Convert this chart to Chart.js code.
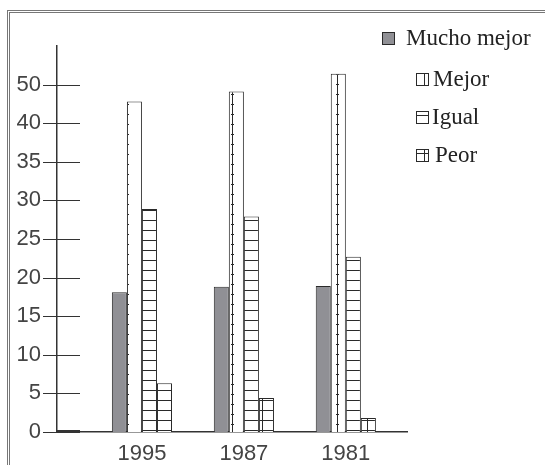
<!DOCTYPE html>
<html>
<head>
<meta charset="utf-8">
<script src="https://cdn.jsdelivr.net/npm/chart.js@4"></script>
<style>
body{margin:0;background:#fff;}
#wrap{position:relative;width:545px;height:465px;overflow:hidden;background:#fff;}
#frame{position:absolute;left:7px;top:10px;width:700px;height:700px;border-left:3px double #777;border-top:3px double #777;}
canvas{position:absolute;left:0;top:0;}
</style>
</head>
<body>
<div id="wrap"><div id="frame"></div><canvas id="chart" width="545" height="465"></canvas></div>
<script>
var years = ['1995', '1987', '1981'];
var seriesNames = ['Mucho mejor', 'Mejor', 'Igual', 'Peor'];
var muchoMejor = [18.1, 18.8, 18.9];
var mejor = [42.8, 44.1, 46.4];
var igual = [28.9, 27.9, 22.7];
var peor = [6.3, 4.4, 1.8];
var yTickValues = [0, 5, 10, 15, 20, 25, 30, 35, 40, 45];
var yTickLabels = ['0', '5', '10', '15', '20', '25', '30', '35', '40', '50'];

var hatchKinds = ['solid', 'v', 'h', 'hv'];
var ink = '#2a2a2a';
var gray = '#909095';

var canvas = document.getElementById('chart');
var ctx = canvas.getContext('2d');

// bar fills: small tiles repeated across the canvas
function makeFill(kind){
	if(kind == 'solid') return gray;
	var c = document.createElement('canvas');
	c.width = 15; c.height = 10;
	var g = c.getContext('2d');
	g.fillStyle = '#fff';
	g.fillRect(0, 0, 15, 10);
	g.fillStyle = ink;
	if(kind == 'v' || kind == 'hv') g.fillRect(7, 0, 1, 10);
	if(kind == 'h' || kind == 'hv') g.fillRect(0, 0, 15, 1);
	if(kind == 'v') g.fillRect(6, 4, 3, 1);
	return ctx.createPattern(c, 'repeat');
}

var seriesValues = [muchoMejor, mejor, igual, peor];
var datasets = [];
for(var s = 0; s < seriesNames.length; s++){
	datasets.push({
		label: seriesNames[s],
		data: years.map(function(y, i){ return {x: i + 1, y: seriesValues[s][i]}; }),
		backgroundColor: makeFill(hatchKinds[s]),
		borderColor: ink,
		borderWidth: 1,
		categoryPercentage: 0.59,
		barPercentage: 1
	});
}

var tickMarks = {
	id: 'tickMarks',
	afterDraw: function(chart){
		var c = chart.ctx, a = chart.chartArea, y = chart.scales.y;
		c.save();
		c.strokeStyle = '#333';
		y.ticks.forEach(function(t){
			var py = Math.round(y.getPixelForValue(t.value)) + 0.5;
			c.lineWidth = 1;
			c.beginPath();
			c.moveTo(a.left - 14, py);
			c.lineTo(a.left + 23, py);
			c.stroke();
			if(t.value == 0){
				c.lineWidth = 3;
				c.beginPath();
				c.moveTo(a.left, py - 1);
				c.lineTo(a.left + 23, py - 1);
				c.stroke();
			}
		});
		c.restore();
	}
};

var hatchLegend = {
	id: 'hatchLegend',
	afterDraw: function(chart){
		var c = chart.ctx;
		var boxX = [382, 416, 416, 416];
		var boxY = [32, 73, 111, 149];
		var textX = [406, 433, 432, 435];
		c.save();
		c.font = '23px "Liberation Serif", serif';
		c.textBaseline = 'middle';
		chart.data.datasets.forEach(function(ds, i){
			var x = boxX[i] + 0.5, y = boxY[i] + 0.5, w = 12;
			var kind = hatchKinds[i];
			c.lineWidth = 1;
			c.strokeStyle = ink;
			c.fillStyle = kind == 'solid' ? gray : '#fff';
			c.fillRect(x, y, w, w);
			c.strokeRect(x, y, w, w);
			c.beginPath();
			if(kind == 'v' || kind == 'hv'){ c.moveTo(x + 8, y); c.lineTo(x + 8, y + w); }
			if(kind == 'h' || kind == 'hv'){ c.moveTo(x, y + 4); c.lineTo(x + w, y + 4); }
			c.stroke();
			c.fillStyle = '#222';
			c.fillText(ds.label, textX[i], boxY[i] + 7);
		});
		c.restore();
	}
};

var tickFont = {family: '"Liberation Sans", Arial, sans-serif', size: 22};

new Chart(canvas, {
	type: 'bar',
	data: {datasets: datasets},
	options: {
		responsive: false,
		animation: false,
		devicePixelRatio: 1,
		layout: {padding: {top: 46, right: 138, left: 0, bottom: 0}},
		plugins: {legend: {display: false}, tooltip: {enabled: false}},
		scales: {
			x: {
				type: 'linear',
				offset: false,
				min: 0.167,
				max: 3.6,
				grid: {display: false, offset: false},
				border: {display: true, color: '#333', width: 1.5},
				afterBuildTicks: function(s){ s.ticks = years.map(function(y, i){ return {value: i + 1}; }); },
				afterFit: function(s){ s.height = 33; },
				ticks: {
					callback: function(v, i){ return years[i]; },
					font: tickFont, color: '#444', padding: 1,
					autoSkip: false, maxRotation: 0
				}
			},
			y: {
				min: 0,
				max: 50,
				grid: {display: false},
				border: {display: true, color: '#333', width: 1.5},
				afterBuildTicks: function(s){ s.ticks = yTickValues.map(function(v){ return {value: v}; }); },
				afterFit: function(s){ s.width = 57; },
				ticks: {
					callback: function(v, i){ return yTickLabels[i]; },
					font: tickFont, color: '#444', padding: 8
				}
			}
		}
	},
	plugins: [tickMarks, hatchLegend]
});
</script>
</body>
</html>
